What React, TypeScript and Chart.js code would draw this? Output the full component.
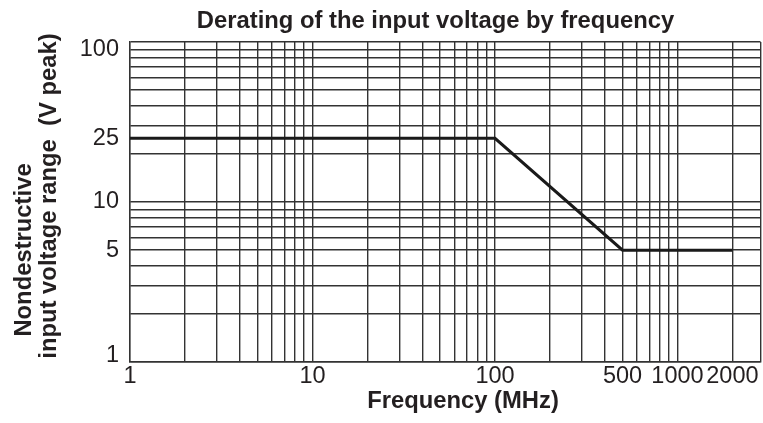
import { useEffect, useRef } from 'react';
import { Chart, registerables } from 'chart.js';

Chart.register(...registerables);

// ---- Text ----
const chartTitle = 'Derating of the input voltage by frequency';
const xAxisTitle = 'Frequency (MHz)';
const yAxisTitleLines = ['Nondestructive', 'input voltage range  (V peak)'];

// ---- Series (frequency in MHz, voltage in V peak) ----
const frequencies = [1, 100, 500, 2000];
const voltages = [25, 25, 5, 5];

// ---- Axes ----
const xMin = 1;
const xMax = 2850;
const xGridValues = [
  1, 2, 3, 4, 5, 6, 7, 8, 9,
  10, 20, 30, 40, 50, 60, 70, 80, 90,
  100, 200, 300, 400, 500, 600, 700, 800, 900,
  1000, 2000,
];
const xTickLabels = [1, 10, 100, 500, 1000, 2000];

const yMin = 1;
const yMax = 100;
const yGridValues = [
  1, 2, 3, 4, 5, 6, 7, 8, 9,
  10, 20, 30, 40, 50, 60, 70, 80, 90, 100,
];
const yTickLabels = [1, 5, 10, 25, 100];

// ---- Styles ----
const FONT = '"Liberation Sans", Arial, Helvetica, sans-serif';
const TEXT_COLOR = '#231f20';
const GRID_COLOR = '#333333';
const LINE_COLOR = '#1a1a1a';

const textPlugin = {
  id: 'customText',
  afterDraw(chart: any) {
    const { ctx, chartArea, scales } = chart;
    ctx.save();
    ctx.fillStyle = TEXT_COLOR;

    // Main title
    ctx.font = `bold 23.8px ${FONT}`;
    ctx.textAlign = 'center';
    ctx.textBaseline = 'alphabetic';
    ctx.fillText(chartTitle, 435.5, 28);

    // X axis title
    ctx.fillText(xAxisTitle, 463, 408);

    // Y axis title (two lines, rotated)
    const yCenters = [250, 196];
    const yBaselines = [30.7, 55.5];
    yAxisTitleLines.forEach((line, i) => {
      ctx.save();
      ctx.translate(yBaselines[i], yCenters[i]);
      ctx.rotate(-Math.PI / 2);
      ctx.fillText(line, 0, 0);
      ctx.restore();
    });

    // Y tick labels
    ctx.font = `23.5px ${FONT}`;
    ctx.textAlign = 'right';
    ctx.textBaseline = 'middle';
    yTickLabels.forEach((v) => {
      let y = scales.y.getPixelForValue(v);
      y = Math.min(Math.max(y, chartArea.top + 8), chartArea.bottom - 6);
      ctx.fillText(String(v), chartArea.left - 11, y);
    });

    ctx.restore();
  },
};

export default function App() {
  const canvasRef = useRef<HTMLCanvasElement | null>(null);

  useEffect(() => {
    const canvas = canvasRef.current;
    if (!canvas) return;

    const chart = new Chart(canvas, {
      type: 'line',
      data: {
        datasets: [
          {
            data: frequencies.map((f, i) => ({ x: f, y: voltages[i] })),
            borderColor: LINE_COLOR,
            borderWidth: 3,
            pointRadius: 0,
            tension: 0,
            fill: false,
          },
        ],
      },
      options: {
        responsive: false,
        animation: false,
        devicePixelRatio: 1,
        layout: { padding: { top: 42, right: 2.5, left: 0, bottom: 0 } },
        plugins: {
          legend: { display: false },
          title: { display: false },
          tooltip: { enabled: false },
        },
        scales: {
          x: {
            type: 'logarithmic',
            min: xMin,
            max: xMax,
            afterBuildTicks: (scale: any) => {
              scale.ticks = [...xGridValues, xMax].map((v) => ({ value: v }));
            },
            afterFit: (scale: any) => {
              scale.height = 61;
            },
            grid: { color: GRID_COLOR, lineWidth: 1.4, drawTicks: false },
            border: { color: GRID_COLOR, width: 1.4 },
            ticks: {
              autoSkip: false,
              maxRotation: 0,
              minRotation: 0,
              padding: 0,
              color: TEXT_COLOR,
              font: { family: FONT, size: 23.5 },
              callback: (value: any) =>
                xTickLabels.includes(Number(value)) ? String(value) : '',
            },
          },
          y: {
            type: 'logarithmic',
            min: yMin,
            max: yMax,
            afterBuildTicks: (scale: any) => {
              scale.ticks = yGridValues.map((v) => ({ value: v }));
            },
            afterFit: (scale: any) => {
              scale.width = 130;
            },
            grid: { color: GRID_COLOR, lineWidth: 1.4, drawTicks: false },
            border: { color: GRID_COLOR, width: 1.4 },
            ticks: { display: false },
          },
        },
      },
      plugins: [textPlugin],
    } as any);

    return () => {
      chart.destroy();
    };
  }, []);

  return (
    <canvas
      ref={canvasRef}
      width={763}
      height={423}
      style={{ position: 'fixed', left: 0, top: 0, width: 763, height: 423, display: 'block', background: '#ffffff' }}
    />
  );
}
